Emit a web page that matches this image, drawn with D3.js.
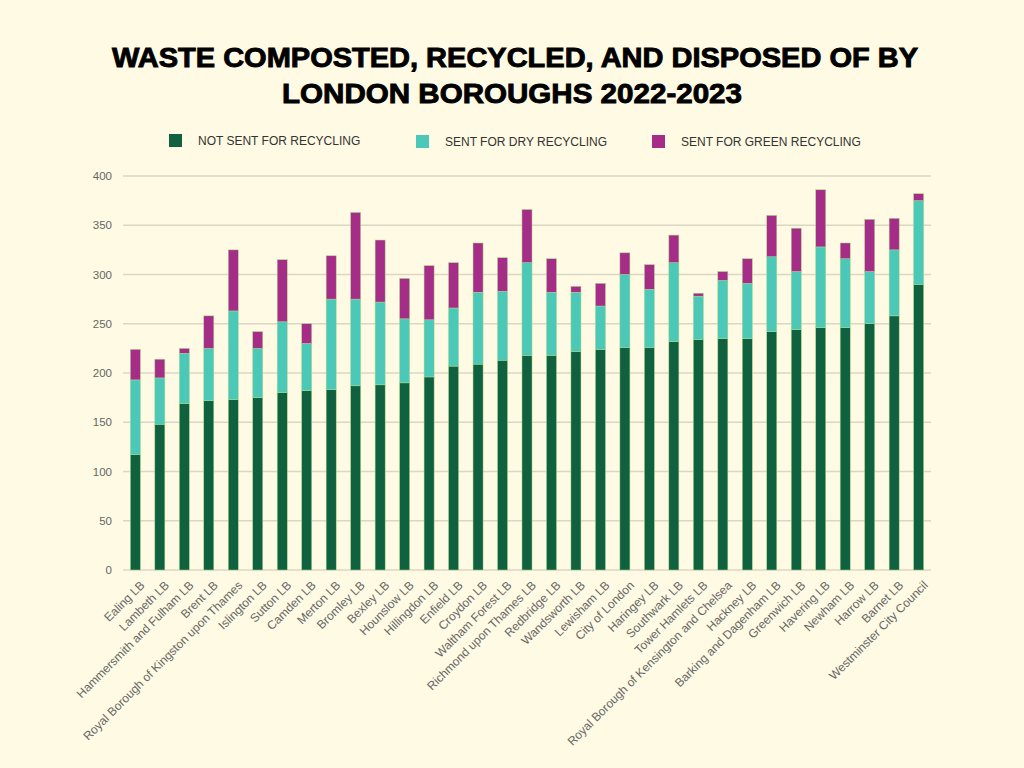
<!DOCTYPE html>
<html>
<head>
<meta charset="utf-8">
<script src="https://cdn.jsdelivr.net/npm/d3@7"></script>
<style>
  html, body { margin: 0; padding: 0; background: #fefae3; }
  svg { display: block; }
</style>
</head>
<body>
<div id="chart-area"></div>
<script>
// boroughs, left to right
var boroughs = ["Ealing LB", "Lambeth LB", "Hammersmith and Fulham LB", "Brent LB",
  "Royal Borough of Kingston upon Thames", "Islington LB", "Sutton LB", "Camden LB",
  "Merton LB", "Bromley LB", "Bexley LB", "Hounslow LB", "Hillingdon LB", "Enfield LB",
  "Croydon LB", "Waltham Forest LB", "Richmond upon Thames LB", "Redbridge LB",
  "Wandsworth LB", "Lewisham LB", "City of London", "Haringey LB", "Southwark LB",
  "Tower Hamlets LB", "Royal Borough of Kensington and Chelsea", "Hackney LB",
  "Barking and Dagenham LB", "Greenwich LB", "Havering LB", "Newham LB", "Harrow LB",
  "Barnet LB", "Westminster City Council"];

var notSent = [117, 148, 169, 172, 173, 175, 180, 182, 183, 187, 188, 190, 196, 207,
  209, 213, 218, 218, 222, 224, 226, 226, 232, 234, 235, 235, 242, 244, 246, 246, 250, 258, 290];
var dryRecycling = [76, 47, 51, 53, 90, 50, 72, 48, 92, 88, 84, 65, 58, 59,
  73, 70, 94, 64, 60, 44, 74, 59, 80, 44, 59, 56, 76, 59, 82, 70, 53, 67, 85];
var greenRecycling = [31, 19, 5, 33, 62, 17, 63, 20, 44, 88, 63, 41, 55, 46,
  50, 34, 54, 34, 6, 23, 22, 25, 28, 3, 9, 25, 42, 44, 58, 16, 53, 32, 7];

var seriesNames = ["NOT SENT FOR RECYCLING", "SENT FOR DRY RECYCLING", "SENT FOR GREEN RECYCLING"];
var seriesColors = ["#0f6140", "#4bc8b8", "#a52d87"];
var yTicks = [0, 50, 100, 150, 200, 250, 300, 350, 400];

var width = 1024, height = 768;
var margin = {top: 176, right: 93, bottom: 198, left: 123};
var innerW = width - margin.left - margin.right;
var innerH = height - margin.top - margin.bottom;

var svg = d3.select("#chart-area")
  .append("svg")
  .attr("width", width)
  .attr("height", height);

svg.append("rect").attr("width", width).attr("height", height).attr("fill", "#fefae3");

// title
var title = svg.append("g")
  .attr("font-family", "'Liberation Sans', Arial, sans-serif")
  .attr("font-weight", "bold")
  .attr("font-size", "27px")
  .attr("fill", "#000")
  .attr("stroke", "#000")
  .attr("stroke-width", 0.9)
  .attr("text-anchor", "middle");
title.append("text").attr("x", 515).attr("y", 67)
  .attr("textLength", 806).attr("lengthAdjust", "spacingAndGlyphs")
  .text("WASTE COMPOSTED, RECYCLED, AND DISPOSED OF BY");
title.append("text").attr("x", 512).attr("y", 103)
  .attr("textLength", 460).attr("lengthAdjust", "spacingAndGlyphs")
  .text("LONDON BOROUGHS 2022-2023");

// legend
var legendX = [169, 416, 652];
var legend = svg.append("g").selectAll("g")
  .data(seriesNames)
  .enter().append("g")
  .attr("transform", (d, i) => "translate(" + legendX[i] + ", " + (134 + (i > 0 ? 1 : 0)) + ")");
legend.append("rect")
  .attr("width", 13).attr("height", 13)
  .attr("fill", (d, i) => seriesColors[i]);
legend.append("text")
  .attr("x", 29).attr("y", 11)
  .attr("font-family", "'Liberation Sans', Arial, sans-serif")
  .attr("font-size", "12px")
  .attr("fill", "#333")
  .text((d) => d);

var g = svg.append("g")
  .attr("transform", "translate(" + margin.left + ", " + margin.top + ")");

var x = d3.scaleBand()
  .domain(boroughs)
  .range([0, innerW])
  .paddingInner(0.59)
  .paddingOuter(0.3);

var y = d3.scaleLinear()
  .domain([0, 400])
  .range([innerH, 0]);

// gridlines
g.append("g")
  .selectAll("line")
  .data(yTicks)
  .enter().append("line")
  .attr("x1", 0).attr("x2", innerW)
  .attr("y1", (d) => y(d)).attr("y2", (d) => y(d))
  .attr("stroke", "#dcd6c4")
  .attr("stroke-width", 1.5);

// y axis labels
var leftAxis = d3.axisLeft(y).tickValues(yTicks).tickSize(0).tickPadding(11);
g.append("g")
  .attr("class", "y axis")
  .call(leftAxis)
  .call((sel) => sel.select(".domain").remove())
  .selectAll("text")
  .attr("font-family", "'Liberation Sans', Arial, sans-serif")
  .attr("font-size", "11.5px")
  .attr("fill", "#666");

// stacked bars
var rows = boroughs.map((b, i) => ({
  name: b, notSent: notSent[i], dry: dryRecycling[i], green: greenRecycling[i]
}));
var stack = d3.stack().keys(["notSent", "dry", "green"]);
var layers = stack(rows);

g.selectAll("g.layer")
  .data(layers)
  .enter().append("g")
  .attr("class", "layer")
  .attr("fill", (d, i) => seriesColors[i])
  .selectAll("rect")
  .data((d) => d)
  .enter().append("rect")
  .attr("x", (d) => x(d.data.name))
  .attr("y", (d) => y(d[1]))
  .attr("height", (d) => y(d[0]) - y(d[1]))
  .attr("width", x.bandwidth())
  .attr("stroke", "#a9d98a")
  .attr("stroke-width", 0.5);

// x axis labels
var bottomAxis = d3.axisBottom(x).tickSize(0).tickPadding(0);
g.append("g")
  .attr("class", "x axis")
  .attr("transform", "translate(0, " + innerH + ")")
  .call(bottomAxis)
  .call((sel) => sel.select(".domain").remove())
  .selectAll("text")
  .attr("font-family", "'Liberation Sans', Arial, sans-serif")
  .attr("font-size", "12px")
  .attr("fill", "#666")
  .attr("text-anchor", "end")
  .attr("transform", "translate(7, 13) rotate(-45)")
  .attr("dy", "0.35em");
</script>
</body>
</html>
